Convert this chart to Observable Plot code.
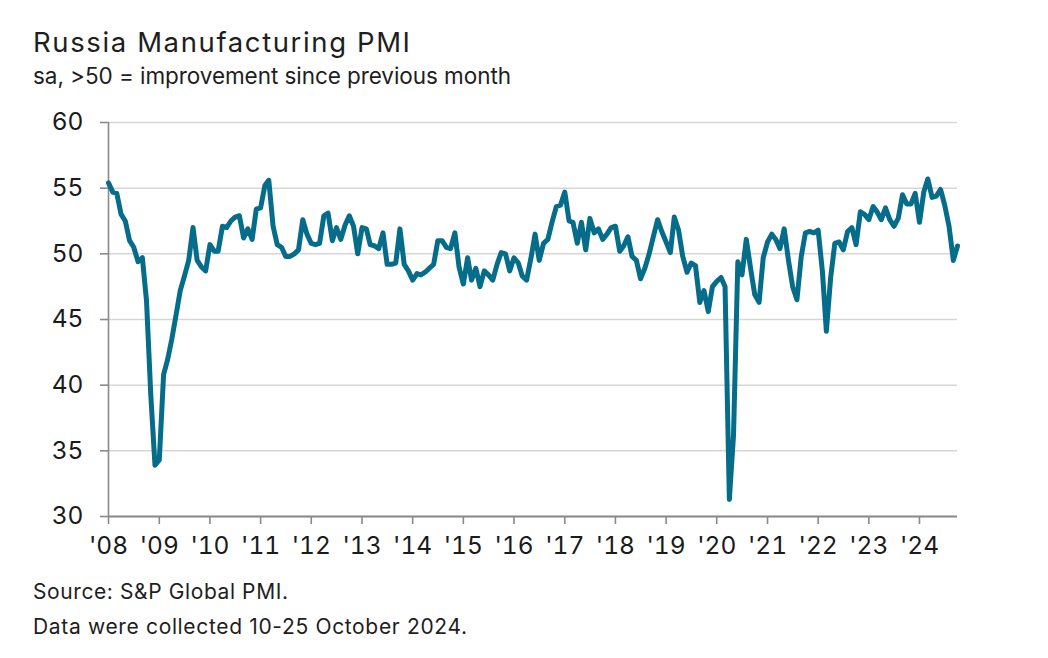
<!DOCTYPE html>
<html>
<head>
<meta charset="utf-8">
<script src="https://cdn.jsdelivr.net/npm/d3@7"></script>
<script src="https://cdn.jsdelivr.net/npm/@observablehq/plot@0.6"></script>
<style>
  html, body { margin: 0; padding: 0; background: #fff; }
  #wrap { position: relative; width: 1048px; height: 658px; overflow: hidden; background: #fff; font-family: Inter, "Noto Sans", sans-serif; color: #1e1e1e; }
  .txt { position: absolute; left: 33px; white-space: nowrap; line-height: normal; }
  .txt span { display: inline-block; }
  #chart { position: absolute; left: 0; top: 100px; }
</style>
</head>
<body>
<div id="wrap">
  <div class="txt" id="title" style="top:25px;font-size:27.5px;"><span data-w="377">Russia Manufacturing PMI</span></div>
  <div class="txt" id="subtitle" style="top:61.5px;font-size:22.5px;"><span data-w="478">sa, &gt;50 = improvement since previous month</span></div>
  <div id="chart"></div>
  <div class="txt" id="source" style="top:579px;font-size:21px;"><span data-w="255">Source: S&amp;P Global PMI.</span></div>
  <div class="txt" id="note" style="top:614px;font-size:21px;"><span data-w="434">Data were collected 10-25 October 2024.</span></div>
</div>
<script>
// ---- Data (monthly, Jan 2008 – Oct 2024) ----
const startYear = 2008;
const pmi2008 = [55.4, 54.7, 54.6, 53.0, 52.5, 51.0, 50.5, 49.4, 49.7, 46.4, 39.2, 33.9];
const pmi2009 = [34.3, 40.8, 41.9, 43.5, 45.3, 47.2, 48.3, 49.5, 52.0, 49.5, 49.0, 48.7];
const pmi2010 = [50.7, 50.2, 50.2, 52.1, 52.0, 52.5, 52.8, 52.9, 51.2, 51.9, 51.1, 53.4];
const pmi2011 = [53.5, 55.2, 55.6, 52.1, 50.7, 50.5, 49.8, 49.8, 50.0, 50.3, 52.6, 51.5];
const pmi2012 = [50.8, 50.7, 50.8, 52.9, 53.1, 51.0, 52.0, 51.1, 52.2, 52.9, 52.1, 50.0];
const pmi2013 = [52.0, 51.9, 50.7, 50.6, 50.4, 51.6, 49.2, 49.2, 49.3, 51.9, 49.2, 48.7];
const pmi2014 = [48.0, 48.5, 48.4, 48.6, 48.9, 49.2, 51.0, 51.0, 50.5, 50.4, 51.6, 49.0];
const pmi2015 = [47.7, 49.7, 48.0, 48.9, 47.5, 48.7, 48.4, 48.0, 49.2, 50.1, 50.0, 48.7];
const pmi2016 = [49.7, 49.3, 48.3, 48.0, 49.6, 51.5, 49.5, 50.8, 51.1, 52.4, 53.6, 53.7];
const pmi2017 = [54.7, 52.5, 52.4, 50.8, 52.4, 50.3, 52.7, 51.6, 51.9, 51.1, 51.5, 52.0];
const pmi2018 = [52.1, 50.2, 50.6, 51.3, 49.8, 49.5, 48.1, 48.9, 50.0, 51.3, 52.6, 51.7];
const pmi2019 = [50.9, 50.1, 52.8, 51.8, 49.8, 48.6, 49.3, 49.1, 46.3, 47.2, 45.6, 47.5];
const pmi2020 = [47.9, 48.2, 47.5, 31.3, 36.2, 49.4, 48.4, 51.1, 48.9, 46.9, 46.3, 49.7];
const pmi2021 = [50.9, 51.5, 51.1, 50.4, 51.9, 49.5, 47.5, 46.5, 49.8, 51.6, 51.7, 51.6];
const pmi2022 = [51.8, 48.6, 44.1, 48.2, 50.8, 50.9, 50.3, 51.7, 52.0, 50.7, 53.2, 53.0];
const pmi2023 = [52.6, 53.6, 53.2, 52.6, 53.5, 52.6, 52.1, 52.7, 54.5, 53.8, 53.8, 54.6];
const pmi2024 = [52.4, 54.7, 55.7, 54.3, 54.4, 54.9, 53.7, 52.1, 49.5, 50.6];

const yTicks = [30, 35, 40, 45, 50, 55, 60];
const xTickLabels = ["'08","'09","'10","'11","'12","'13","'14","'15","'16","'17","'18","'19","'20","'21","'22","'23","'24"];

// ---- Build table ----
const values = [].concat(pmi2008, pmi2009, pmi2010, pmi2011, pmi2012, pmi2013, pmi2014, pmi2015,
  pmi2016, pmi2017, pmi2018, pmi2019, pmi2020, pmi2021, pmi2022, pmi2023, pmi2024);
const data = values.map((v, i) => ({ date: new Date(Date.UTC(startYear, i, 1)), value: v }));
const xTicks = xTickLabels.map((_, i) => new Date(Date.UTC(startYear + i, 0, 1)));
const labelOf = new Map(xTicks.map((d, i) => [+d, xTickLabels[i]]));
const x0 = data[0].date, x1 = data[data.length - 1].date;

const axisFont = "Inter, 'Noto Sans', sans-serif";
const chart = Plot.plot({
  width: 1048,
  height: 470,
  marginTop: 22,
  marginBottom: 54,
  marginLeft: 108,
  marginRight: 91,
  style: { fontFamily: axisFont, fontSize: "24.5px", color: "#1a1a1a", background: "#fff" },
  x: { type: "utc", domain: [x0, x1] },
  y: { domain: [30, 60] },
  marks: [
    Plot.gridY(yTicks, { stroke: "#d6d6d6", strokeOpacity: 1, strokeWidth: 1.5 }),
    Plot.ruleX([x0], { stroke: "#8a8a8a", strokeWidth: 1.6 }),
    Plot.ruleY([30], { stroke: "#8a8a8a", strokeWidth: 2, x1: x0, x2: x1 }),
    Plot.axisY(yTicks, { tickSize: 8, tickPadding: 17, stroke: "#8a8a8a", strokeWidth: 1.6, fill: "#1a1a1a", label: null, fontSize: 24.5 }),
    Plot.axisX(xTicks, { tickSize: 8, tickPadding: 12, stroke: "#8a8a8a", strokeWidth: 1.6, fill: "#1a1a1a", label: null, fontSize: 24.5, tickFormat: d => labelOf.get(+d) }),
    Plot.line(data, { x: "date", y: "value", stroke: "#056c8a", strokeWidth: 5, strokeLinejoin: "round", strokeLinecap: "round", curve: "linear" })
  ]
});
document.getElementById("chart").appendChild(chart);

// Fit text widths via letter-spacing
document.querySelectorAll(".txt span").forEach(s => {
  const target = +s.dataset.w;
  const w = s.getBoundingClientRect().width;
  const n = s.textContent.length - 1;
  if (n > 0) s.style.letterSpacing = ((target - w) / n) + "px";
});
</script>
</body>
</html>
